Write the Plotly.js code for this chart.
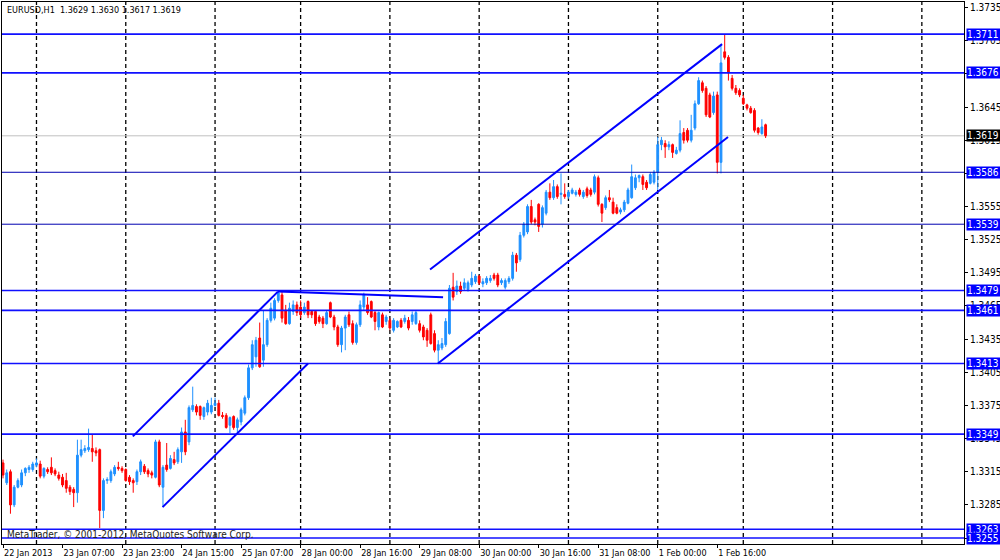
<!DOCTYPE html>
<html>
<head>
<meta charset="utf-8">
<script src="https://cdn.plot.ly/plotly-3.0.1.min.js"></script>
<style>
html,body{margin:0;padding:0;background:#fff;}
#chart{width:1000px;height:560px;}
</style>
</head>
<body>
<div id="chart"></div>
<script>
// ---- data (EURUSD, H1) ----
const symbol = 'EURUSD,H1';
const open = [
1.3323,1.3305,1.3315,1.3285,1.3301,1.3303,1.3314,1.3317,1.3317,1.3321,
1.3322,1.3311,1.3317,1.3319,1.3316,1.3312,1.3310,1.3307,1.3301,1.3299,
1.3296,1.3330,1.3334,1.3335,1.3336,1.3334,1.3335,1.3280,1.3307,1.3307,
1.3313,1.3319,1.3318,1.3317,1.3310,1.3307,1.3306,1.3315,1.3320,1.3316,
1.3314,1.3310,1.3342,1.3301,1.3321,1.3318,1.3326,1.3324,1.3333,1.3351,
1.3342,1.3371,1.3374,1.3374,1.3365,1.3369,1.3369,1.3375,1.3377,1.3366,
1.3366,1.3357,1.3365,1.3355,1.3360,1.3368,1.3382,1.3409,1.3419,1.3436,
1.3416,1.3430,1.3452,1.3454,1.3470,1.3475,1.3461,1.3449,1.3460,1.3466,
1.3464,1.3459,1.3469,1.3460,1.3460,1.3455,1.3454,1.3449,1.3468,1.3455,
1.3446,1.3430,1.3445,1.3457,1.3449,1.3432,1.3448,1.3464,1.3466,1.3469,
1.3459,1.3446,1.3457,1.3451,1.3452,1.3443,1.3446,1.3452,1.3451,1.3452,
1.3451,1.3449,1.3449,1.3446,1.3443,1.3457,1.3440,1.3425,1.3427,1.3430,
1.3440,1.3482,1.3478,1.3483,1.3481,1.3480,1.3484,1.3487,1.3492,1.3485,
1.3486,1.3488,1.3493,1.3493,1.3486,1.3482,1.3487,1.3490,1.3511,1.3507,
1.3529,1.3532,1.3555,1.3543,1.3557,1.3539,1.3549,1.3568,1.3563,1.3573,
1.3566,1.3566,1.3564,1.3567,1.3566,1.3570,1.3564,1.3571,1.3570,1.3568,
1.3581,1.3557,1.3554,1.3563,1.3559,1.3554,1.3550,1.3552,1.3558,1.3563,
1.3572,1.3581,1.3582,1.3577,1.3576,1.3577,1.3586,1.3611,1.3612,1.3609,
1.3611,1.3603,1.3606,1.3622,1.3624,1.3615,1.3626,1.3648,1.3667,1.3662,
1.3656,1.3640,1.3656,1.3595,1.3695,1.3690,1.3671,1.3662,1.3660,1.3653,
1.3647,1.3644,1.3642,1.3626,1.3621,1.3629];
const high = [
1.3326,1.3317,1.3317,1.3303,1.3309,1.3317,1.3319,1.3321,1.3324,1.3327,
1.3325,1.3319,1.3319,1.3328,1.3318,1.3315,1.3313,1.3314,1.3303,1.3301,
1.3344,1.3344,1.3339,1.3354,1.3349,1.3337,1.3336,1.3309,1.3310,1.3317,
1.3321,1.3324,1.3320,1.3318,1.3312,1.3309,1.3317,1.3326,1.3322,1.3318,
1.3316,1.3344,1.3344,1.3321,1.3341,1.3330,1.3333,1.3337,1.3355,1.3362,
1.3375,1.3392,1.3376,1.3375,1.3374,1.3380,1.3382,1.3382,1.3380,1.3369,
1.3368,1.3365,1.3366,1.3364,1.3373,1.3384,1.3412,1.3434,1.3437,1.3450,
1.3461,1.3454,1.3468,1.3472,1.3479,1.3478,1.3466,1.3468,1.3470,1.3469,
1.3470,1.3468,1.3470,1.3461,1.3461,1.3457,1.3456,1.3461,1.3469,1.3457,
1.3448,1.3447,1.3457,1.3460,1.3452,1.3450,1.3470,1.3477,1.3473,1.3470,
1.3461,1.3460,1.3459,1.3457,1.3454,1.3454,1.3452,1.3454,1.3457,1.3455,
1.3460,1.3461,1.3452,1.3448,1.3445,1.3459,1.3443,1.3434,1.3436,1.3454,
1.3484,1.3495,1.3488,1.3487,1.3490,1.3488,1.3496,1.3494,1.3493,1.3490,
1.3492,1.3493,1.3495,1.3495,1.3490,1.3490,1.3492,1.3514,1.3513,1.3532,
1.3541,1.3557,1.3561,1.3545,1.3558,1.3556,1.3570,1.3576,1.3579,1.3575,
1.3585,1.3576,1.3570,1.3572,1.3570,1.3572,1.3570,1.3573,1.3572,1.3584,
1.3583,1.3558,1.3565,1.3570,1.3563,1.3557,1.3554,1.3561,1.3572,1.3593,
1.3584,1.3584,1.3584,1.3579,1.3586,1.3588,1.3618,1.3618,1.3615,1.3614,
1.3612,1.3609,1.3633,1.3626,1.3626,1.3638,1.3651,1.3672,1.3669,1.3664,
1.3658,1.3659,1.3659,1.3701,1.3711,1.3692,1.3674,1.3665,1.3662,1.3656,
1.3648,1.3646,1.3644,1.3627,1.3634,1.3630];
const low = [
1.3309,1.3303,1.3277,1.3283,1.3300,1.3301,1.3311,1.3314,1.3315,1.3319,
1.3309,1.3309,1.3313,1.3312,1.3311,1.3307,1.3301,1.3296,1.3294,1.3283,
1.3287,1.3328,1.3332,1.3333,1.3324,1.3329,1.3264,1.3273,1.3304,1.3305,
1.3311,1.3316,1.3314,1.3306,1.3303,1.3296,1.3303,1.3312,1.3313,1.3310,
1.3309,1.3309,1.3301,1.3283,1.3315,1.3317,1.3321,1.3322,1.3323,1.3330,
1.3339,1.3369,1.3366,1.3362,1.3362,1.3366,1.3367,1.3374,1.3365,1.3363,
1.3354,1.3350,1.3353,1.3350,1.3357,1.3366,1.3380,1.3407,1.3410,1.3409,
1.3410,1.3428,1.3450,1.3452,1.3468,1.3450,1.3448,1.3448,1.3457,1.3456,
1.3454,1.3457,1.3454,1.3454,1.3447,1.3449,1.3445,1.3448,1.3454,1.3443,
1.3428,1.3423,1.3425,1.3446,1.3430,1.3430,1.3446,1.3461,1.3457,1.3454,
1.3443,1.3443,1.3445,1.3448,1.3443,1.3441,1.3445,1.3445,1.3449,1.3443,
1.3448,1.3448,1.3441,1.3434,1.3428,1.3430,1.3423,1.3414,1.3425,1.3428,
1.3439,1.3470,1.3475,1.3476,1.3479,1.3478,1.3482,1.3485,1.3484,1.3482,
1.3484,1.3486,1.3488,1.3482,1.3484,1.3480,1.3485,1.3488,1.3496,1.3505,
1.3527,1.3530,1.3539,1.3538,1.3532,1.3536,1.3547,1.3561,1.3561,1.3562,
1.3557,1.3562,1.3562,1.3566,1.3564,1.3564,1.3562,1.3563,1.3564,1.3566,
1.3555,1.3541,1.3552,1.3559,1.3548,1.3548,1.3548,1.3550,1.3557,1.3562,
1.3570,1.3577,1.3570,1.3570,1.3575,1.3575,1.3570,1.3606,1.3599,1.3606,
1.3599,1.3602,1.3604,1.3612,1.3613,1.3613,1.3624,1.3647,1.3658,1.3636,
1.3635,1.3638,1.3585,1.3585,1.3688,1.3669,1.3660,1.3656,1.3654,1.3647,
1.3642,1.3639,1.3622,1.3620,1.3620,1.3617];
const close = [
1.3312,1.3314,1.3285,1.3301,1.3307,1.3314,1.3318,1.3319,1.3322,1.3323,
1.3311,1.3318,1.3315,1.3314,1.3313,1.3309,1.3303,1.3300,1.3297,1.3296,
1.3330,1.3335,1.3336,1.3337,1.3333,1.3332,1.3280,1.3307,1.3308,1.3315,
1.3319,1.3318,1.3316,1.3307,1.3306,1.3305,1.3315,1.3324,1.3315,1.3313,
1.3312,1.3342,1.3303,1.3319,1.3317,1.3327,1.3323,1.3335,1.3351,1.3333,
1.3373,1.3375,1.3369,1.3366,1.3373,1.3377,1.3375,1.3377,1.3366,1.3365,
1.3355,1.3364,1.3355,1.3362,1.3371,1.3382,1.3409,1.3430,1.3434,1.3410,
1.3430,1.3452,1.3463,1.3470,1.3477,1.3454,1.3449,1.3463,1.3466,1.3459,
1.3457,1.3464,1.3457,1.3457,1.3449,1.3451,1.3449,1.3459,1.3455,1.3446,
1.3430,1.3445,1.3455,1.3448,1.3432,1.3448,1.3466,1.3475,1.3459,1.3455,
1.3451,1.3459,1.3446,1.3455,1.3445,1.3452,1.3451,1.3446,1.3454,1.3445,
1.3457,1.3459,1.3443,1.3437,1.3434,1.3431,1.3425,1.3430,1.3431,1.3451,
1.3481,1.3473,1.3483,1.3478,1.3486,1.3486,1.3490,1.3492,1.3486,1.3487,
1.3490,1.3490,1.3490,1.3484,1.3488,1.3488,1.3490,1.3511,1.3504,1.3529,
1.3539,1.3555,1.3541,1.3541,1.3537,1.3554,1.3568,1.3563,1.3573,1.3564,
1.3567,1.3564,1.3568,1.3570,1.3568,1.3566,1.3568,1.3565,1.3566,1.3582,
1.3557,1.3549,1.3563,1.3561,1.3549,1.3549,1.3552,1.3559,1.3570,1.3582,
1.3581,1.3583,1.3575,1.3572,1.3584,1.3586,1.3611,1.3615,1.3609,1.3611,
1.3604,1.3606,1.3621,1.3615,1.3615,1.3624,1.3648,1.3669,1.3660,1.3638,
1.3636,1.3655,1.3595,1.3685,1.3690,1.3676,1.3662,1.3658,1.3656,1.3648,
1.3644,1.3640,1.3624,1.3622,1.3627,1.3619];

// time axis: bar index of each labelled bar and its label
const tickBars = [0,16,32,48,64,80,96,112,128,144,160,176,192];
const tickLabels = ['22 Jan 2013','23 Jan 07:00','23 Jan 23:00','24 Jan 15:00','25 Jan 07:00',
  '28 Jan 00:00','28 Jan 16:00','29 Jan 08:00','30 Jan 00:00','30 Jan 16:00',
  '31 Jan 08:00','1 Feb 00:00','1 Feb 16:00'];
// bar index of each day start (vertical dashed grid)
const dayStartBars = [9,33,57,80,104,128,152,176,199,223,247];

// horizontal price levels
const levelPrices = [1.3711,1.3676,1.3586,1.3539,1.3479,1.3461,1.3413,1.3349,1.3263,1.3255];
const levelKinds  = ['main','main','dark','dark','main','main','main','main','main','main'];
const bidPrice = 1.3619;

// trend lines: [barStart, priceStart, barEnd, priceEnd]
const trendLines = [
  [34.9, 1.3347, 73.9, 1.3478],
  [42.9, 1.3283, 82.0, 1.3413],
  [73.9, 1.3478, 118.3, 1.3473],
  [114.8, 1.3498, 193.3, 1.3702],
  [116.9, 1.3413, 194.9, 1.3618]
];

// ---- drawing ----
const FONT = "'Liberation Sans Narrow','DejaVu Sans Condensed','Liberation Sans',Arial,sans-serif";
const barIndex = open.map((_, i) => i);

const trace = {
  type: 'candlestick',
  x: barIndex, open: open, high: high, low: low, close: close,
  increasing: {line: {color: '#1E90FF', width: 1}, fillcolor: '#1E90FF'},
  decreasing: {line: {color: '#FF0000', width: 1}, fillcolor: '#FF0000'},
  whiskerwidth: 0,
  hoverinfo: 'skip',
  showlegend: false
};

const shapes = [];
dayStartBars.forEach(b => shapes.push({
  type: 'line', xref: 'x', yref: 'paper', x0: b, x1: b, y0: 0, y1: 1,
  line: {color: '#000', width: 1.3, dash: '4px,3px'}, layer: 'below'
}));
shapes.push({
  type: 'line', xref: 'paper', yref: 'y', x0: 0, x1: 1, y0: bidPrice, y1: bidPrice,
  line: {color: '#C0C0C0', width: 1}, layer: 'below'
});
levelPrices.forEach((p, i) => shapes.push({
  type: 'line', xref: 'paper', yref: 'y', x0: 0, x1: 1, y0: p, y1: p,
  line: levelKinds[i] === 'dark' ? {color: '#0000B0', width: 1} : {color: '#1010FF', width: 1.6}
}));
trendLines.forEach(t => shapes.push({
  type: 'line', xref: 'x', yref: 'y', x0: t[0], y0: t[1], x1: t[2], y1: t[3],
  line: {color: '#0000FF', width: 2}
}));

const annotations = [];
levelPrices.forEach(p => annotations.push({
  xref: 'paper', yref: 'y', x: 1, y: p, xanchor: 'left', yanchor: 'middle', xshift: 2,
  text: p.toFixed(4), showarrow: false, bgcolor: '#0000FF', borderpad: 0,
  width: 34, align: 'left', font: {family: FONT, size: 10, color: '#FFFFFF'}
}));
annotations.push({
  xref: 'paper', yref: 'y', x: 1, y: bidPrice, xanchor: 'left', yanchor: 'middle', xshift: 2,
  text: bidPrice.toFixed(4), showarrow: false, bgcolor: '#000000', borderpad: 0,
  width: 34, align: 'left', font: {family: FONT, size: 10, color: '#FFFFFF'}
});
const last = open.length - 1;
annotations.push({
  xref: 'paper', yref: 'paper', x: 0, y: 1, xanchor: 'left', yanchor: 'top', xshift: 3, yshift: -1,
  text: symbol + '\u00a0\u00a0' + [open[last], high[last], low[last], close[last]].map(v => v.toFixed(4)).join(' '),
  showarrow: false, font: {family: FONT, size: 9, color: '#000'}
});
annotations.push({
  xref: 'paper', yref: 'paper', x: 0, y: 0, xanchor: 'left', yanchor: 'bottom', xshift: 3, yshift: 2,
  text: 'MetaTrader, © 2001-2012, MetaQuotes Software Corp.',
  showarrow: false, font: {family: FONT, size: 10, color: '#222'}
});

const layout = {
  width: 1000, height: 560,
  margin: {l: 2, r: 36, t: 2, b: 16, pad: 0},
  paper_bgcolor: '#FFFFFF', plot_bgcolor: '#FFFFFF',
  showlegend: false,
  font: {family: FONT, size: 10, color: '#000'},
  xaxis: {
    range: [-0.27, 258.33], autorange: false, type: 'linear',
    rangeslider: {visible: false},
    tickmode: 'array', tickvals: tickBars, ticktext: tickLabels,
    tickangle: 0,
    ticks: 'outside', ticklen: 3, tickcolor: '#000', tickwidth: 1,
    ticklabelposition: 'outside right',
    tickfont: {family: FONT, size: 9, color: '#000'},
    showgrid: false, zeroline: false,
    showline: true, linecolor: '#000', linewidth: 1, mirror: true,
    automargin: false, fixedrange: true
  },
  yaxis: {
    side: 'right', range: [1.32496, 1.37401], autorange: false,
    tickmode: 'linear', tick0: 1.3255, dtick: 0.003, tickformat: '.4f',
    ticks: 'outside', ticklen: 3, tickcolor: '#000', tickwidth: 1,
    tickfont: {family: FONT, size: 10, color: '#000'},
    showgrid: false, zeroline: false,
    showline: true, linecolor: '#000', linewidth: 1, mirror: true,
    automargin: false, fixedrange: true
  },
  shapes: shapes,
  annotations: annotations
};

Plotly.newPlot('chart', [trace], layout, {staticPlot: true, displayModeBar: false});
</script>
</body>
</html>
